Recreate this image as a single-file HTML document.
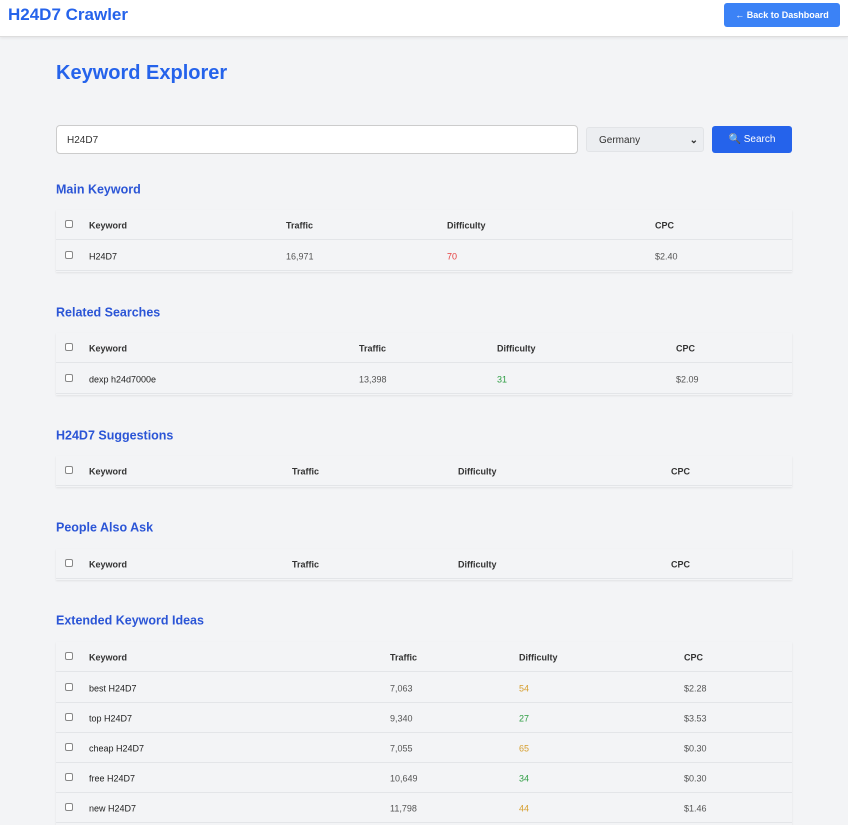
<!DOCTYPE html>
<html><head><style>
*{margin:0;padding:0;box-sizing:border-box}
body{width:848px;height:825px;overflow:hidden;background:#f3f4f6;font-family:"Liberation Sans",sans-serif;position:relative}
.a{position:absolute;white-space:nowrap}
.hdr{position:absolute;left:0;top:0;width:848px;height:37px;background:#fff;border-bottom:1px solid #ddd;box-shadow:0 1px 3px rgba(0,0,0,.08)}
.h2{position:absolute;left:56px;font-size:12.5px;font-weight:bold;color:#2b55d6;transform:translateY(-45%)}
.tbl{position:absolute;left:56px;width:736px;background:#f3f4f6;box-shadow:0 1px 2px rgba(0,0,0,.08)}
.row{position:absolute;left:0;width:736px;height:30px;border-bottom:1px solid #e3e5e8}
.row span{position:absolute;top:50%;transform:translateY(-44%);font-size:9px;color:#555}
.row.h span{font-weight:bold;color:#333}
.row span.k{color:#222}
.cb{position:absolute;left:9px;top:50%;margin-top:-5px;width:8px;height:8px;border:1px solid #888;border-radius:2px;background:#fff}
</style></head><body>
<div class="hdr"></div>
<div class="a" style="left:8px;top:5px;font-size:17px;font-weight:bold;color:#2563eb">H24D7 Crawler</div>
<div class="a" style="left:724px;top:3px;width:116px;height:24px;background:#3b82f6;border-radius:3px;color:#fff;font-size:9px;font-weight:bold;line-height:24px;text-align:center">← Back to Dashboard</div>
<div class="a" style="left:56px;top:62px;font-size:20px;font-weight:bold;color:#2563eb">Keyword Explorer</div>
<div class="a" style="left:56px;top:125px;width:522px;height:29px;background:#fff;border:1px solid #ccc;border-radius:4px;font-size:10px;color:#333;line-height:29px;padding-left:10px">H24D7</div>
<div class="a" style="left:586px;top:127px;width:118px;height:25px;background:#eceef1;border:1px solid #e2e4e7;border-radius:3px;font-size:10px;color:#333;line-height:25px;padding-left:12px">Germany<span style="position:absolute;right:5px;font-weight:bold">⌄</span></div>
<div class="a" style="left:712px;top:126px;width:80px;height:27px;background:#2563eb;border-radius:3px;color:#fff;font-size:10px;line-height:28px;text-align:center">🔍 Search</div>

<div class="h2" style="top:189px">Main Keyword</div>
<div class="tbl" style="top:210px;height:62px">
<div class="row h" style="top:0"><i class="cb"></i><span style="left:33px">Keyword</span><span style="left:230px">Traffic</span><span style="left:391px">Difficulty</span><span style="left:599px">CPC</span></div>
<div class="row" style="top:31px"><i class="cb"></i><span class="k" style="left:33px">H24D7</span><span style="left:230px">16,971</span><span style="left:391px;color:#e53e3e">70</span><span style="left:599px">$2.40</span></div>
</div>

<div class="h2" style="top:312px">Related Searches</div>
<div class="tbl" style="top:333px;height:62px">
<div class="row h" style="top:0"><i class="cb"></i><span style="left:33px">Keyword</span><span style="left:303px">Traffic</span><span style="left:441px">Difficulty</span><span style="left:620px">CPC</span></div>
<div class="row" style="top:31px"><i class="cb"></i><span class="k" style="left:33px">dexp h24d7000e</span><span style="left:303px">13,398</span><span style="left:441px;color:#2f9e44">31</span><span style="left:620px">$2.09</span></div>
</div>

<div class="h2" style="top:435px">H24D7 Suggestions</div>
<div class="tbl" style="top:456px;height:31px">
<div class="row h" style="top:0"><i class="cb"></i><span style="left:33px">Keyword</span><span style="left:236px">Traffic</span><span style="left:402px">Difficulty</span><span style="left:615px">CPC</span></div>
</div>

<div class="h2" style="top:527px">People Also Ask</div>
<div class="tbl" style="top:549px;height:31px">
<div class="row h" style="top:0"><i class="cb"></i><span style="left:33px">Keyword</span><span style="left:236px">Traffic</span><span style="left:402px">Difficulty</span><span style="left:615px">CPC</span></div>
</div>

<div class="h2" style="top:620px">Extended Keyword Ideas</div>
<div class="tbl" style="top:642px;height:183px">
<div class="row h" style="top:0"><i class="cb"></i><span style="left:33px">Keyword</span><span style="left:334px">Traffic</span><span style="left:463px">Difficulty</span><span style="left:628px">CPC</span></div>
<div class="row" style="top:31px"><i class="cb"></i><span class="k" style="left:33px">best H24D7</span><span style="left:334px">7,063</span><span style="left:463px;color:#d69e2e">54</span><span style="left:628px">$2.28</span></div>
<div class="row" style="top:61px"><i class="cb"></i><span class="k" style="left:33px">top H24D7</span><span style="left:334px">9,340</span><span style="left:463px;color:#2f9e44">27</span><span style="left:628px">$3.53</span></div>
<div class="row" style="top:91px"><i class="cb"></i><span class="k" style="left:33px">cheap H24D7</span><span style="left:334px">7,055</span><span style="left:463px;color:#d69e2e">65</span><span style="left:628px">$0.30</span></div>
<div class="row" style="top:121px"><i class="cb"></i><span class="k" style="left:33px">free H24D7</span><span style="left:334px">10,649</span><span style="left:463px;color:#2f9e44">34</span><span style="left:628px">$0.30</span></div>
<div class="row" style="top:151px"><i class="cb"></i><span class="k" style="left:33px">new H24D7</span><span style="left:334px">11,798</span><span style="left:463px;color:#d69e2e">44</span><span style="left:628px">$1.46</span></div>
</div>
</body></html>
